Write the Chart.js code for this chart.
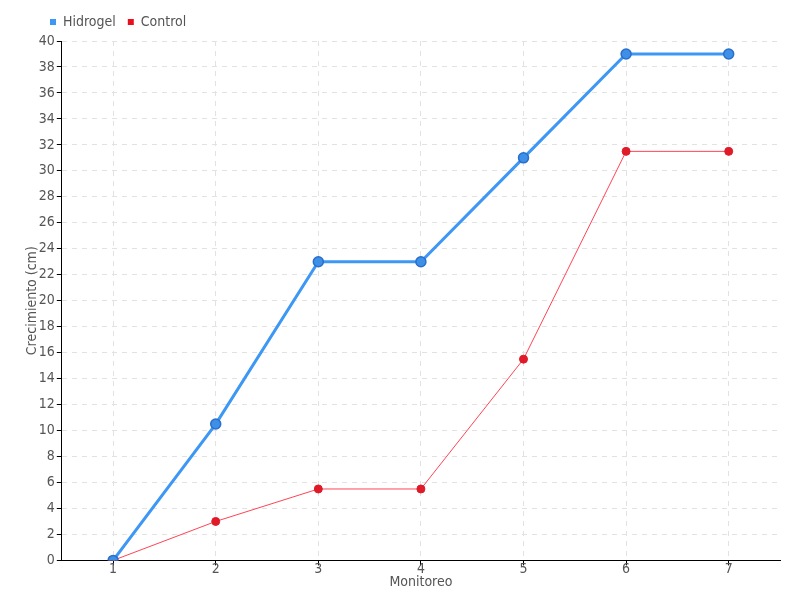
<!DOCTYPE html>
<html lang="es">
<head>
    <meta charset="UTF-8">
    <title>Crecimiento</title>
    <script src="https://cdn.jsdelivr.net/npm/chart.js"></script>
    <style>
        body { margin: 0; background: #fff; }
    </style>
</head>
<body>
    <canvas id="growthChart" width="800" height="600"></canvas>

    <script>
        const monitoreo = ['1', '2', '3', '4', '5', '6', '7'];
        const hidrogel = [0, 10.5, 23, 23, 31, 39, 39];
        const control = [0, 3, 5.5, 5.5, 15.5, 31.5, 31.5];

        const fontFamily = "'DejaVu Sans Condensed', 'Liberation Sans Narrow', 'DejaVu Sans', sans-serif";
        Chart.defaults.font.family = fontFamily;
        Chart.defaults.color = '#555';

        // nudge the legend to where the original has it
        const legendShift = {
            id: 'legendShift',
            afterLayout(chart) {
                chart.legend.left += 14;
                chart.legend.top -= 2;
            }
        };

        const ctx = document.getElementById('growthChart').getContext('2d');
        new Chart(ctx, {
            type: 'line',
            data: {
                labels: monitoreo,
                datasets: [{
                    label: 'Hidrogel',
                    data: hidrogel,
                    borderColor: '#3d97f5',
                    backgroundColor: '#3d8fe8',
                    pointBorderColor: '#2a6fc9',
                    pointBackgroundColor: '#3d8fe8',
                    borderWidth: 3,
                    pointRadius: 5,
                    pointBorderWidth: 1.5,
                    tension: 0
                }, {
                    label: 'Control',
                    data: control,
                    borderColor: '#ff4455',
                    backgroundColor: '#e01a28',
                    pointBorderColor: '#e01a28',
                    pointBackgroundColor: '#e01a28',
                    borderWidth: 1,
                    pointRadius: 4,
                    tension: 0
                }]
            },
            options: {
                responsive: false,
                animation: false,
                layout: { padding: { left: 24, right: 20, top: 5, bottom: 9 } },
                plugins: {
                    legend: {
                        align: 'start',
                        labels: {
                            boxWidth: 6,
                            boxHeight: 6,
                            padding: 12,
                            font: { size: 14 },
                            generateLabels: chart => chart.data.datasets.map((ds, i) => ({
                                text: ds.label,
                                fillStyle: i === 0 ? '#3d97f5' : '#e8101e',
                                strokeStyle: i === 0 ? '#3d97f5' : '#e8101e',
                                lineWidth: 0,
                                datasetIndex: i,
                                fontColor: '#555'
                            }))
                        }
                    },
                    tooltip: { enabled: false }
                },
                scales: {
                    x: {
                        offset: true,
                        title: { display: true, text: 'Monitoreo', font: { size: 14 }, padding: { top: 0, bottom: 0 } },
                        ticks: { font: { size: 14 }, padding: -4 },
                        grid: { color: '#e2e2e2', tickColor: '#000', tickLength: 5, offset: false },
                        border: { display: true, color: '#000', width: 1, dash: [5, 5] }
                    },
                    y: {
                        min: 0,
                        max: 40,
                        title: { display: true, text: 'Crecimiento (cm)', font: { size: 14 }, padding: { top: 0, bottom: -4 } },
                        ticks: { stepSize: 2, font: { size: 14 }, padding: 2 },
                        grid: { color: '#e2e2e2', tickColor: '#000', tickLength: 5 },
                        border: { display: true, color: '#000', width: 1, dash: [5, 5] }
                    }
                }
            },
            plugins: [legendShift]
        });
    </script>
</body>
</html>
